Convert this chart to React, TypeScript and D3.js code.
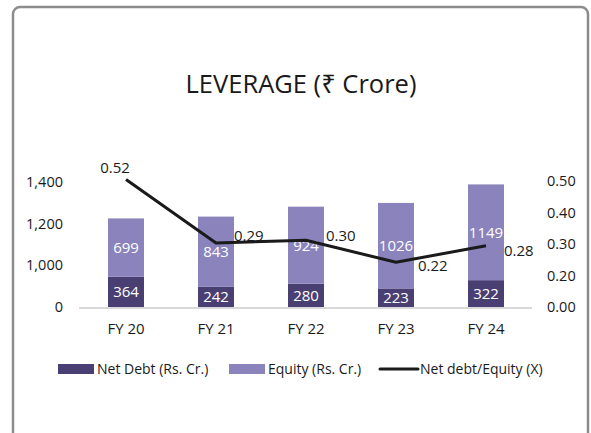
import React, { useEffect, useRef } from 'react';
import * as d3 from 'd3';

const years = ['FY 20', 'FY 21', 'FY 22', 'FY 23', 'FY 24'];
const netDebt = [364, 242, 280, 223, 322];
const equity = [699, 843, 924, 1026, 1149];
const debtEquity = [0.52, 0.29, 0.3, 0.22, 0.28];

// axis labels as printed on the original (its scale is not linear)
const leftTickValues = [0, 500, 1000, 1500];
const leftTickLabels = ['0', '1,000', '1,200', '1,400'];
const rightTickValues = [0.1, 0.2, 0.3, 0.4, 0.5];
const rightTickLabels = ['0.00', '0.20', '0.30', '0.40', '0.50'];

const legendItems = ['Net Debt (Rs. Cr.)', 'Equity (Rs. Cr.)', 'Net debt/Equity (X)'];

const W = 591;
const H = 433;
const DARK = '#4a3f73';
const LIGHT = '#8a83bc';
const FONT = '"Open Sans", "Noto Sans", sans-serif';

export default function App() {
  const svgRef = useRef<SVGSVGElement>(null);

  useEffect(() => {
    if (!svgRef.current) return;
    const svg = d3.select(svgRef.current);
    svg.selectAll('*').remove();
    svg.style('font-family', FONT);

    // frame
    svg.append('rect')
      .attr('x', 13).attr('y', 7)
      .attr('width', 575).attr('height', 450)
      .attr('rx', 7)
      .attr('fill', '#fff')
      .attr('stroke', '#8c8c8c')
      .attr('stroke-width', 2.5);

    svg.append('text')
      .attr('x', 301).attr('y', 93)
      .attr('text-anchor', 'middle')
      .attr('font-size', 25.5)
      .attr('fill', '#1a1a1a')
      .text('LEVERAGE (₹ Crore)');

    const x = d3.scaleBand<string>()
      .domain(years)
      .range([81, 531])
      .paddingInner(0.6)
      .paddingOuter(0.3);

    const y = d3.scaleLinear().domain([0, 1500]).range([307, 182]);
    const yLine = d3.scaleLinear().domain([0, 0.5]).range([323, 185]);
    const yRightTicks = d3.scaleLinear().domain([0.1, 0.5]).range([307, 181]);

    // left axis labels
    svg.append('g')
      .selectAll('text')
      .data(leftTickValues)
      .join('text')
      .attr('x', 63)
      .attr('y', d => y(d))
      .attr('dy', '0.35em')
      .attr('text-anchor', 'end')
      .attr('font-size', 14.5)
      .attr('fill', '#1a1a1a')
      .text((d, i) => leftTickLabels[i]);

    // right axis labels
    svg.append('g')
      .selectAll('text')
      .data(rightTickValues)
      .join('text')
      .attr('x', 547)
      .attr('y', d => yRightTicks(d))
      .attr('dy', '0.35em')
      .attr('font-size', 14.5)
      .attr('fill', '#1a1a1a')
      .text((d, i) => rightTickLabels[i]);

    // bars
    const rows = years.map((yr, i) => ({ yr, debt: netDebt[i], eq: equity[i] }));
    const bars = svg.append('g');
    bars.selectAll('rect.debt')
      .data(rows)
      .join('rect')
      .attr('class', 'debt')
      .attr('x', d => x(d.yr)!)
      .attr('width', x.bandwidth())
      .attr('y', d => y(d.debt))
      .attr('height', d => y(0) - y(d.debt))
      .attr('fill', DARK);
    bars.selectAll('rect.eq')
      .data(rows)
      .join('rect')
      .attr('class', 'eq')
      .attr('x', d => x(d.yr)!)
      .attr('width', x.bandwidth())
      .attr('y', d => y(d.debt + d.eq))
      .attr('height', d => y(d.debt) - y(d.debt + d.eq))
      .attr('fill', LIGHT);

    // value labels inside bars
    const cx = (yr: string) => x(yr)! + x.bandwidth() / 2;
    bars.selectAll('text.debt')
      .data(rows)
      .join('text')
      .attr('x', d => cx(d.yr))
      .attr('y', d => (y(0) + y(d.debt)) / 2)
      .attr('dy', '0.36em')
      .attr('text-anchor', 'middle')
      .attr('font-size', 15)
      .attr('fill', '#fff')
      .text(d => d.debt);
    bars.selectAll('text.eq')
      .data(rows)
      .join('text')
      .attr('x', d => cx(d.yr))
      .attr('y', d => (y(d.debt) + y(d.debt + d.eq)) / 2)
      .attr('dy', '0.36em')
      .attr('text-anchor', 'middle')
      .attr('font-size', 15)
      .attr('fill', '#fff')
      .text(d => d.eq);

    // x axis line
    svg.append('line')
      .attr('x1', 79).attr('x2', 532)
      .attr('y1', 308).attr('y2', 308)
      .attr('stroke', '#d9d9d9')
      .attr('stroke-width', 2);

    svg.append('g')
      .selectAll('text')
      .data(years)
      .join('text')
      .attr('x', d => cx(d))
      .attr('y', 334)
      .attr('text-anchor', 'middle')
      .attr('font-size', 15)
      .attr('fill', '#1a1a1a')
      .text(d => d);

    // ratio line
    const line = d3.line<number>()
      .x((d, i) => cx(years[i]))
      .y(d => yLine(d));
    svg.append('path')
      .datum(debtEquity)
      .attr('d', line)
      .attr('fill', 'none')
      .attr('stroke', '#1a1a1a')
      .attr('stroke-width', 3)
      .attr('stroke-linejoin', 'round');

    // label placement around each point: [dx, dy, anchor]
    const labelOffsets: [number, number, string][] = [
      [-11, -11, 'middle'],
      [18, -7, 'start'],
      [20, -4, 'start'],
      [22, 4, 'start'],
      [18, 5, 'start'],
    ];
    svg.append('g')
      .selectAll('text')
      .data(debtEquity)
      .join('text')
      .attr('x', (d, i) => cx(years[i]) + labelOffsets[i][0])
      .attr('y', d => yLine(d))
      .attr('dy', (d, i) => labelOffsets[i][1] + 5)
      .attr('text-anchor', (d, i) => labelOffsets[i][2])
      .attr('font-size', 15)
      .attr('fill', '#1a1a1a')
      .text(d => d.toFixed(2));

    // legend
    const lg = svg.append('g').attr('font-size', 14).attr('fill', '#1a1a1a');
    const ly = 369;
    lg.append('rect').attr('x', 58).attr('y', ly - 5).attr('width', 36).attr('height', 10).attr('fill', DARK);
    lg.append('text').attr('x', 97).attr('y', ly).attr('dy', '0.35em').text(legendItems[0]);
    lg.append('rect').attr('x', 229).attr('y', ly - 5).attr('width', 36).attr('height', 10).attr('fill', LIGHT);
    lg.append('text').attr('x', 268).attr('y', ly).attr('dy', '0.35em').text(legendItems[1]);
    lg.append('line').attr('x1', 380).attr('x2', 418).attr('y1', ly).attr('y2', ly)
      .attr('stroke', '#1a1a1a').attr('stroke-width', 3).attr('stroke-linecap', 'round');
    lg.append('text').attr('x', 420).attr('y', ly).attr('dy', '0.35em').text(legendItems[2]);
  }, []);

  return (
    <svg
      ref={svgRef}
      width={W}
      height={H}
      style={{ position: 'absolute', left: 0, top: 0, background: '#fff' }}
    />
  );
}
